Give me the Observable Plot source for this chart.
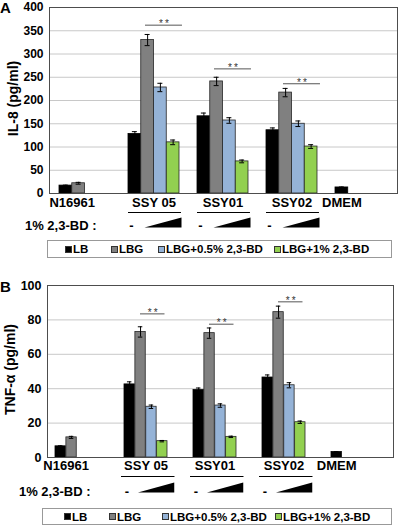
<!DOCTYPE html>
<html><head><meta charset="utf-8">
<script src="https://cdn.jsdelivr.net/npm/d3@7"></script>
<script src="https://cdn.jsdelivr.net/npm/@observablehq/plot@0.6"></script>
<style>
body{margin:0;background:#fff;font-family:"Liberation Sans",Arial,sans-serif;}
#root{position:relative;width:400px;height:526px;overflow:hidden;}
.panel{position:absolute;left:0;}
.letter{position:absolute;font-weight:bold;font-size:15px;line-height:1;}
.legend{position:absolute;border:1px solid #999;box-sizing:border-box;font-weight:bold;font-size:11.5px;}
.item{position:absolute;top:50%;transform:translateY(-50%);display:flex;align-items:center;white-space:nowrap;}
.sw{width:5px;height:5px;border:1px solid #333;margin-right:1px;}
</style></head><body><div id="root"></div>
<script>
// ---- data ----
const groups = ["N16961", "SSY 05", "SSY01", "SSY02", "DMEM"];
const series = ["LB", "LBG", "LBG+0.5% 2,3-BD", "LBG+1% 2,3-BD"];
const colors = ["#000000", "#808080", "#95b3d7", "#92d050"];
const treated = ["SSY 05", "SSY01", "SSY02"];
const bdLabel = "1% 2,3-BD :";

// Panel A: IL-8
const il8Label = "IL-8 (pg/ml)";
const il8Ticks = [0, 50, 100, 150, 200, 250, 300, 350, 400];
const il8Values = [[17, 22, null, null], [128, 330, 228, 110], [166, 241, 157, 69], [136, 217, 150, 101], [13, null, null, null]];
const il8Errors = [[1, 2, 0, 0], [5, 12, 9, 5], [7, 9, 6, 3], [5, 9, 6, 4], [1, 0, 0, 0]];
const il8Sig = [362, 268, 236];

// Panel B: TNF-alpha
const tnfLabel = "TNF-α (pg/ml)";
const tnfTicks = [0, 20, 40, 60, 80, 100];
const tnfValues = [[6.5, 11.7, null, null], [42.5, 73, 29.5, 9.5], [39.2, 72.3, 30.2, 12], [46.5, 84.5, 42, 20.5], [3.2, null, null, null]];
const tnfErrors = [[0.3, 0.6, 0, 0], [1.5, 3, 1, 0.4], [1.2, 3, 1, 0.4], [1.5, 3.5, 1.5, 0.7], [0.2, 0, 0, 0]];
const tnfSig = [83.5, 77.5, 90.5];

const W = 400;

function makePanel(data, L) {
  const rows = [];
  groups.forEach((g, gi) => series.forEach((s, si) => {
    const v = data.values[gi][si];
    if (v != null) rows.push({group: g, si, value: v, err: data.errors[gi][si]});
  }));
  const ymax = data.ticks[data.ticks.length - 1];
  const plotW = W - L.ml - L.mr;
  const step = plotW / (groups.length - L.pi + 2 * L.po);
  const bw = step * (1 - L.pi);
  const slot = bw / 4;
  const fb = {frameAnchor: "bottom", lineAnchor: "middle"};
  const marks = [Plot.gridY(data.ticks.filter(t => t > 0), {stroke: "#c8c8c8", strokeOpacity: 1})];
  series.forEach((s, si) => {
    marks.push(Plot.barY(rows.filter(r => r.si === si), {
      x: "group", y: "value", fill: colors[si], stroke: si === 0 ? "#000" : "#262626", strokeWidth: 0.8,
      insetLeft: si * slot, insetRight: (3 - si) * slot
    }));
  });
  series.forEach((s, si) => {
    const d = rows.filter(r => r.si === si && r.err > 0);
    const c = (si + 0.5) * slot;
    const capL = c - 2.5, capR = bw - c - 2.5;
    marks.push(Plot.ruleX(d, {x: "group", y1: r => r.value - r.err, y2: r => r.value + r.err, dx: c - bw / 2, stroke: "#000"}));
    marks.push(Plot.tickY(d, {x: "group", y: r => r.value + r.err, insetLeft: capL, insetRight: capR, stroke: "#000"}));
    marks.push(Plot.tickY(d, {x: "group", y: r => r.value - r.err, insetLeft: capL, insetRight: capR, stroke: "#000"}));
  });
  const sigRows = treated.map((g, i) => ({group: g, y: data.sig[i]}));
  marks.push(Plot.tickY(sigRows, {x: "group", y: "y", insetLeft: L.sigL, insetRight: bw - L.sigR, stroke: "#555"}));
  marks.push(Plot.text(sigRows, {x: "group", y: "y", text: () => "*\u2009*", dx: (L.sigL + L.sigR) / 2 - bw / 2, dy: -1, fontSize: 10, fontWeight: "normal", fill: "#333"}));
  groups.forEach((g, gi) => {
    const n = data.values[gi].filter(v => v != null).length;
    marks.push(Plot.text([g], {x: d => d, text: d => d, ...fb, dy: L.labDy, dx: (n - 4) / 2 * slot, fontSize: 13}));
  });
  marks.push(Plot.tickY(treated, {x: d => d, y: () => 0, dy: L.underDy, insetLeft: L.uL, insetRight: bw - L.uR, stroke: "#000"}));
  marks.push(Plot.text(treated, {x: d => d, text: () => "-", ...fb, dy: L.bdDy, dx: L.dashX - bw / 2, fontSize: 13}));
  const wedgeSym = {draw(ctx) {
    const w = L.wedgeR - L.wedgeL, h = L.wedgeH;
    ctx.moveTo(-w / 2, h / 2); ctx.lineTo(w / 2, -h / 2); ctx.lineTo(w / 2, h / 2); ctx.closePath();
  }};
  marks.push(Plot.dot(treated, {x: d => d, frameAnchor: "bottom", symbol: wedgeSym, r: 4, fill: "#000", stroke: "none", dx: (L.wedgeL + L.wedgeR) / 2 - bw / 2, dy: L.wedgeDy}));
  marks.push(Plot.text([bdLabel], {frameAnchor: "bottom-left", text: d => d, textAnchor: "end", lineAnchor: "middle", dx: L.bdRight - L.ml, dy: L.bdDy, fontSize: 13}));
  marks.push(Plot.text([data.label], {frameAnchor: "left", y: () => ymax / 2, text: d => d, rotate: -90, textAnchor: "middle", lineAnchor: "middle", dx: L.ylabX - L.ml, dy: L.ylabDy, fontSize: 14}));
  marks.push(Plot.frame({stroke: "#4d4d4d"}));
  marks.push(Plot.axisY(data.ticks, {tickSize: 0, tickPadding: 6, label: null, fontSize: L.tickFont}));
  return Plot.plot({
    width: W, height: L.height,
    marginTop: L.mt, marginBottom: L.mb, marginLeft: L.ml, marginRight: L.mr,
    x: {type: "band", domain: groups, paddingInner: L.pi, paddingOuter: L.po, align: L.align, axis: null},
    y: {domain: [0, ymax]},
    style: {fontFamily: "'Liberation Sans', Arial, sans-serif", fontSize: "12px", fontWeight: "bold", color: "#000", background: "transparent", overflow: "visible"},
    marks
  });
}

function makeLegend(L) {
  const div = document.createElement("div");
  div.className = "legend";
  Object.assign(div.style, {left: L.left + "px", top: L.top + "px", width: L.width + "px", height: L.height + "px"});
  series.forEach((s, si) => {
    const it = document.createElement("div");
    it.className = "item";
    it.style.left = L.items[si] + "px";
    const sw = document.createElement("span");
    sw.className = "sw";
    sw.style.background = colors[si];
    it.appendChild(sw);
    it.appendChild(document.createTextNode(s));
    div.appendChild(it);
  });
  return div;
}

const root = document.getElementById("root");
function place(el, top) {
  const wrap = document.createElement("div");
  wrap.className = "panel";
  wrap.style.top = top + "px";
  wrap.appendChild(el);
  root.appendChild(wrap);
}

const layoutA = {height: 240, mt: 7, mb: 47, ml: 49, mr: 3, pi: 0.267, po: 0.1335, align: 0.48,
  sigL: 17, sigR: 54, labDy: 9, underDy: 19, uL: 0, uR: 53, bdDy: 32.5, dashX: 3,
  wedgeL: 16, wedgeR: 53, wedgeH: 9.8, wedgeDy: 29, bdRight: 96, ylabX: 13, ylabDy: -2, tickFont: 12};
const layoutB = {height: 250, mt: 27, mb: 51, ml: 47, mr: 7, pi: 0.374, po: 0.176, align: 0.286,
  sigL: 16, sigR: 41, labDy: 8, underDy: 19, uL: -3, uR: 51, bdDy: 34, dashX: 2.7,
  wedgeL: 13.7, wedgeR: 50, wedgeH: 10, wedgeDy: 30, bdRight: 90, ylabX: 10, ylabDy: -2, tickFont: 12.5};

place(makePanel({values: il8Values, errors: il8Errors, sig: il8Sig, ticks: il8Ticks, label: il8Label}, layoutA), 0);
place(makePanel({values: tnfValues, errors: tnfErrors, sig: tnfSig, ticks: tnfTicks, label: tnfLabel}, layoutB), 258);
root.appendChild(makeLegend({left: 47, top: 240, width: 345, height: 18, items: [17, 63, 110, 226]}));
root.appendChild(makeLegend({left: 42, top: 508, width: 350, height: 17, items: [21, 66, 119, 232]}));

const la = document.createElement("div"); la.className = "letter"; la.textContent = "A";
Object.assign(la.style, {left: "0px", top: "0px"}); root.appendChild(la);
const lb = document.createElement("div"); lb.className = "letter"; lb.textContent = "B";
Object.assign(lb.style, {left: "0px", top: "279px"}); root.appendChild(lb);
</script></body></html>
